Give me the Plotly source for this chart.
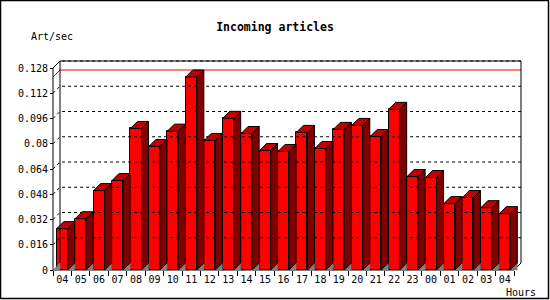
import plotly.graph_objects as go

# ---------------- data ----------------
HOURS = ["04", "05", "06", "07", "08", "09", "10", "11", "12", "13", "14", "15",
         "16", "17", "18", "19", "20", "21", "22", "23", "00", "01", "02", "03", "04"]
ART_PER_SEC = [0.0262, 0.0325, 0.0503, 0.0567, 0.0897, 0.0783, 0.0880, 0.1223,
               0.0821, 0.0961, 0.0865, 0.0757, 0.0751, 0.0872, 0.0770, 0.0891,
               0.0916, 0.0846, 0.1018, 0.0592, 0.0586, 0.0421, 0.0459, 0.0395, 0.0357]
Y_TICKS = [0, 0.016, 0.032, 0.048, 0.064, 0.08, 0.096, 0.112, 0.128]
TITLE = "Incoming articles"
Y_LABEL = "Art/sec"
X_LABEL = "Hours"

# ---------------- geometry (pixels) ----------------
W, H = 550, 300
AX_L, AX_R = 53, 514          # front x axis ends
AX_B, AX_TOPTICK = 270, 68    # y=0 and y=top tick on the front axis
DEPTH = 7                     # 3D depth offset in px
PL, PR, PT, PB = 48, 527, 54, 276   # plot area box (slightly larger than frame)
BAR_FRAC = 0.6

n = len(HOURS)
idx = list(range(n))
cat_px = (AX_R - AX_L) / n
ypx = (AX_B - AX_TOPTICK) / Y_TICKS[-1]
x0, x1 = -0.5, n - 0.5


def xd(px):
    return x0 + (px - AX_L) / cat_px


def yd(py):
    return (AX_B - py) / ypx


def xp(px):
    return (px - PL) / (PR - PL)


def yp(py):
    return (PB - py) / (PB - PT)


dx = DEPTH / cat_px
dy = DEPTH / ypx
hw = BAR_FRAC / 2
ytop = Y_TICKS[-1]

fig = go.Figure()


def add_path(segs, **kw):
    xs, ys = [], []
    for seg in segs:
        for (a, b) in seg:
            xs.append(a)
            ys.append(b)
        xs.append(None)
        ys.append(None)
    fig.add_trace(go.Scatter(x=xs, y=ys, mode="lines", hoverinfo="skip",
                             showlegend=False, **kw))


# dotted grid on back wall (with diagonal on left wall)
add_path([[(x0, t), (x0 + dx, t + dy), (x1 + dx, t + dy)] for t in Y_TICKS[1:]],
         line=dict(color="black", width=1, dash="3px,3px"))

# max value line (red)
vmax = max(ART_PER_SEC)
add_path([[(x0, vmax), (x0 + dx, vmax + dy), (x1 + dx, vmax + dy)]],
         line=dict(color="#ff0000", width=1))

# frame
add_path([
    [(x0 + dx, dy), (x0 + dx, ytop + dy), (x1 + dx, ytop + dy), (x1 + dx, dy)],
    [(x0, 0), (x0, ytop), (x0 + dx, ytop + dy)],
    [(x0, 0), (x1, 0), (x1 + dx, dy)],
], line=dict(color="black", width=1))

# gray floor triangles
tri = [[(x0, 0), (x0 + dx, dy), (x0 + dx, 0), (x0, 0)]]
for i in idx:
    xr = i + hw
    tri.append([(xr, 0), (xr + dx, dy), (xr + dx, 0), (xr, 0)])
add_path(tri, fill="toself", fillcolor="#808080", line=dict(color="#808080", width=0.5))

# front faces
fig.add_trace(go.Bar(x=idx, y=ART_PER_SEC, width=BAR_FRAC,
                     marker=dict(color="#ff0000", line=dict(color="black", width=1)),
                     hoverinfo="skip", showlegend=False))

# side faces
side = []
top = []
for i, v in zip(idx, ART_PER_SEC):
    xl, xr = i - hw, i + hw
    side.append([(xr, 0), (xr + dx, dy), (xr + dx, v + dy), (xr, v), (xr, 0)])
    top.append([(xl, v), (xl + dx, v + dy), (xr + dx, v + dy), (xr, v), (xl, v)])
add_path(side, fill="toself", fillcolor="#800000", line=dict(color="black", width=1))
add_path(top, fill="toself", fillcolor="#c00000", line=dict(color="black", width=1))

FONT = "DejaVu Sans Mono"

fig.update_layout(
    width=W, height=H, autosize=False,
    margin=dict(l=PL, r=W - PR, t=PT, b=H - PB, pad=0),
    paper_bgcolor="white", plot_bgcolor="white",
    font=dict(family=FONT, size=10, color="black"),
    showlegend=False,
    bargap=0,
    title=dict(text="<b>" + TITLE + "</b>", x=0.5, xref="container", xanchor="center",
               y=1 - 27 / H, yref="container", yanchor="middle",
               font=dict(family=FONT, size=11.5, color="black")),
    xaxis=dict(range=[xd(PL), xd(PR)], showgrid=False, zeroline=False, showline=False,
               anchor="free", position=yp(AX_B),
               tickmode="array", tickvals=idx, ticktext=HOURS,
               ticks="outside", ticklen=0, tickfont=dict(family=FONT, size=10),
               minor=dict(tickmode="array", tickvals=[i - 0.5 for i in range(n + 1)],
                          ticks="outside", ticklen=5, tickcolor="black", tickwidth=1,
                          showgrid=False)),
    yaxis=dict(range=[yd(PB), yd(PT)], showgrid=False, zeroline=False, showline=False,
               anchor="free", position=xp(AX_L),
               tickmode="array", tickvals=Y_TICKS, ticktext=[f"{t:g}" for t in Y_TICKS],
               ticks="outside", ticklen=3, tickcolor="black", tickwidth=1,
               tickfont=dict(family=FONT, size=10)),
    annotations=[
        dict(text=Y_LABEL, x=xp(29), y=yp(37), xref="paper", yref="paper",
             xanchor="left", yanchor="middle", showarrow=False,
             font=dict(family=FONT, size=10)),
        dict(text=X_LABEL, x=xp(504), y=yp(292), xref="paper", yref="paper",
             xanchor="left", yanchor="middle", showarrow=False,
             font=dict(family=FONT, size=10)),
    ],
    shapes=[dict(type="rect", xref="paper", yref="paper",
                 x0=xp(0.5), x1=xp(548.5), y0=yp(298.5), y1=yp(0.5),
                 line=dict(color="black", width=1.5), layer="above")],
)

fig.write_html("out.html")
